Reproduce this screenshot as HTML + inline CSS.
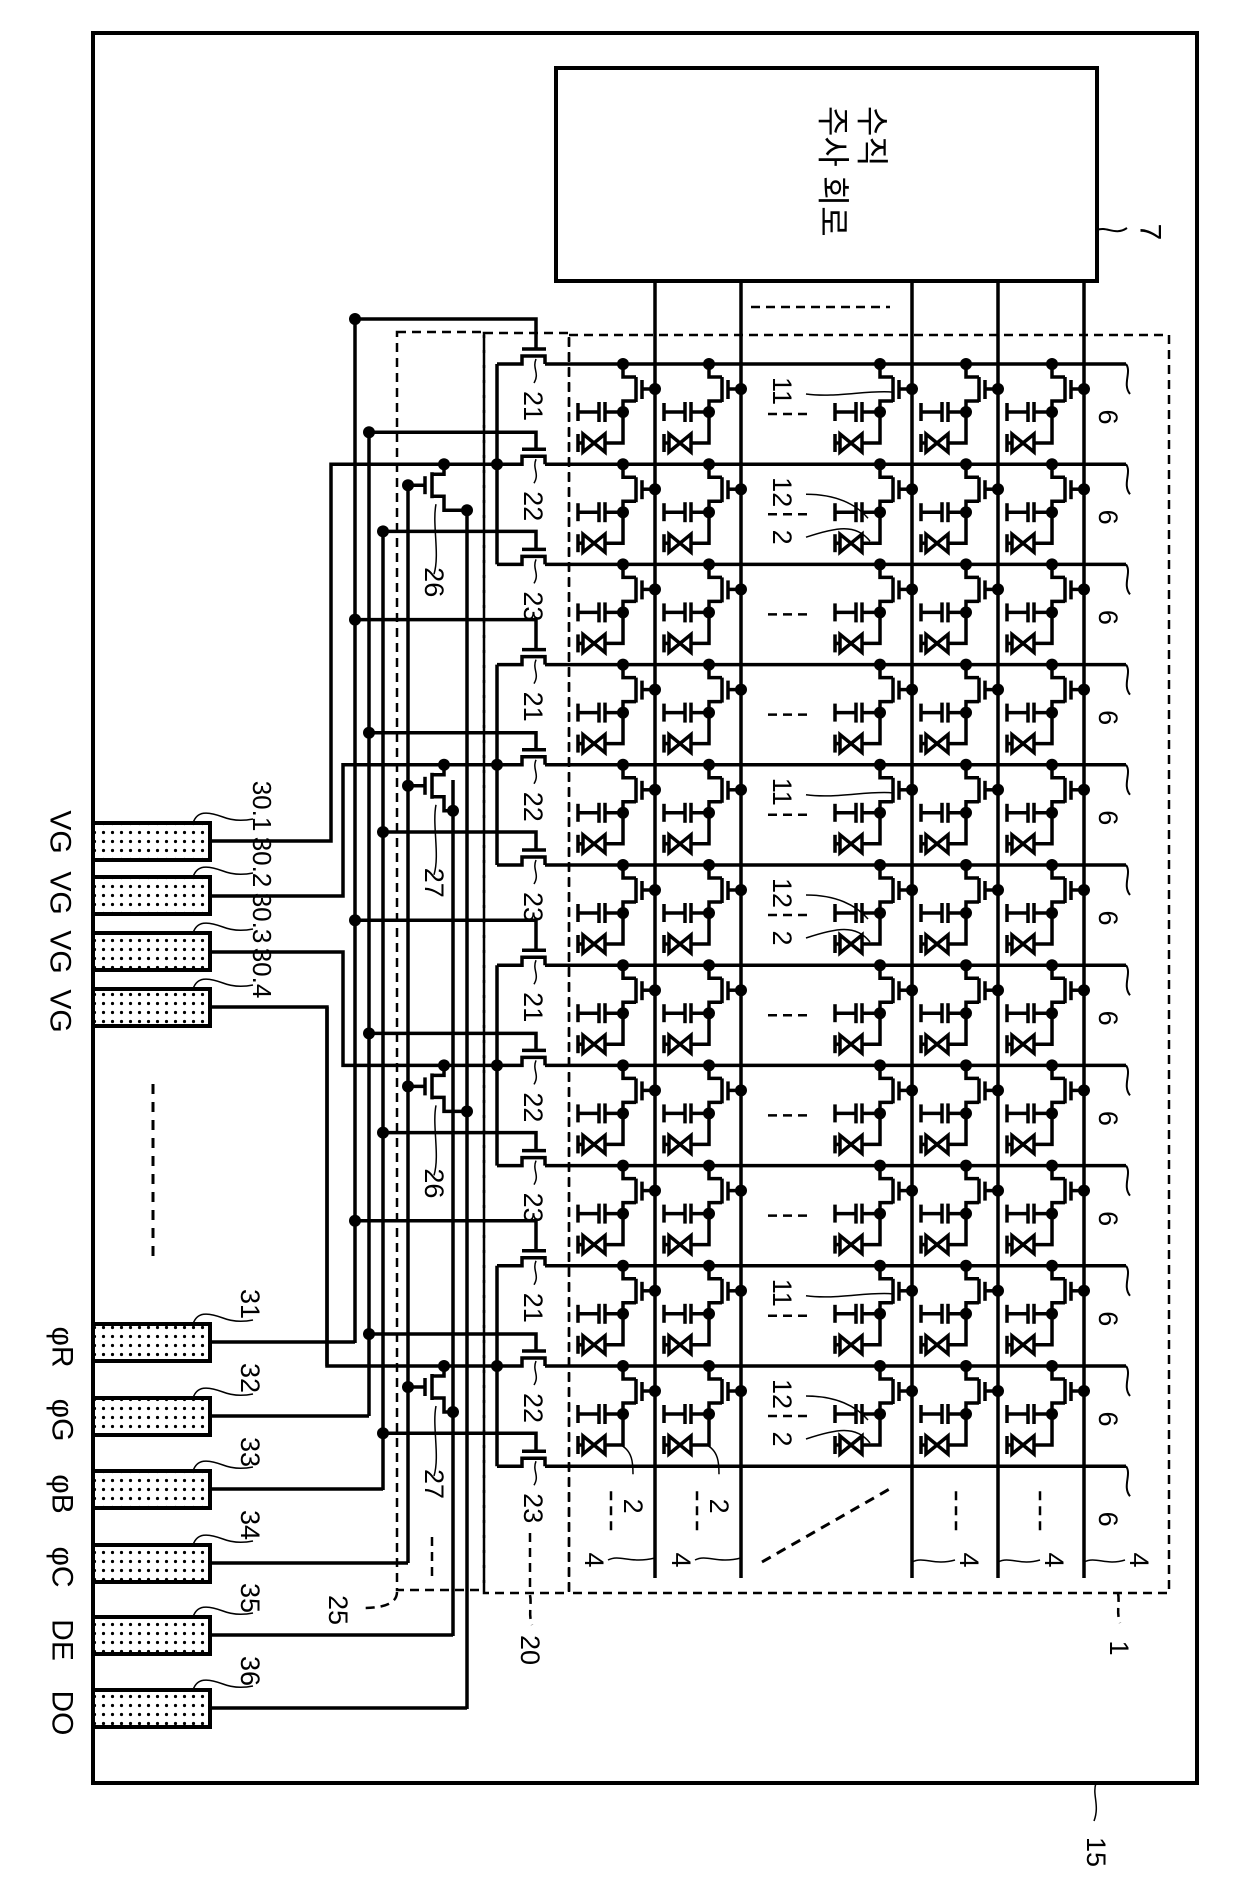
<!DOCTYPE html>
<html><head><meta charset="utf-8">
<style>
html,body{margin:0;padding:0;background:#fff;}
svg{display:block;}
text{font-family:"Liberation Sans","Noto Sans CJK KR",sans-serif;fill:#000;}
</style></head>
<body>
<svg id="s" width="1240" height="1901" viewBox="0 0 1240 1901" xmlns="http://www.w3.org/2000/svg">
<defs>
<pattern id="dots" width="9" height="9" patternUnits="userSpaceOnUse">
<rect width="9" height="9" fill="#fff"/><circle cx="4.5" cy="4.5" r="1.6" fill="#000"/>
</pattern>
</defs>
<g id="g" stroke="#000" stroke-width="3.5" fill="none"></g>
<g id="t"></g>
</svg>
<script>
var G=document.getElementById('g'),T=document.getElementById('t'),out='',txt='';
function L(x1,y1,x2,y2,extra){out+='<line x1="'+x1+'" y1="'+y1+'" x2="'+x2+'" y2="'+y2+'" '+(extra||'')+'/>';}
function P(d,extra){out+='<path d="'+d+'" '+(extra||'')+'/>';}
function D(x,y){out+='<circle cx="'+x+'" cy="'+y+'" r="6" fill="#000" stroke="none"/>';}
function R(x,y,w,h,extra){out+='<rect x="'+x+'" y="'+y+'" width="'+w+'" height="'+h+'" '+(extra||'')+'/>';}
function TX(x,y,s,fs,anc){txt+='<text transform="translate('+x+','+y+') rotate(90)" text-anchor="'+(anc||'middle')+'" dominant-baseline="central" font-size="'+(fs||27)+'">'+s+'</text>';}
var dash='stroke-dasharray="9,6" stroke-width="2.5"';
R(93,33,1104,1750,'stroke-width="4"');
R(556,68,541,213,'stroke-width="4"');
TX(872,106,'수직',33,'start');TX(833,106,'주사 회로',33,'start');
P('M1097,230 c10,-4 18,6 30,-2','stroke-width="2"');TX(1150,232,'7',30);
L(751,307,890,307,dash);
R(569,335,600,1258,dash);R(484,333,85,1260,dash);R(397,332,87,1258,dash);
var C=[655,741,912,998,1084];
C.forEach(function(c){L(c,281,c,1578);});
var Ry=[];for(var k=0;k<12;k++)Ry.push(364+100.2*k);
Ry.forEach(function(r,k){L(545,r,1126,r);
 P('M1126,'+r+' c6,8 -4,20 4,30','stroke-width="2"');TX(1108,r+53,'6',27);});
function cell(c,r){
 D(c-32,r);
 P('M'+(c-32)+','+r+' V'+(r+13)+' H'+(c-19));
 L(c-19,r+13,c-19,r+38);
 L(c-13,r+16,c-13,r+35);
 L(c-13,r+25,c,r+25);D(c,r+25);
 P('M'+(c-19)+','+(r+37)+' H'+(c-32)+' V'+(r+79)+' H'+(c-50));
 D(c-32,r+48);
 L(c-32,r+48,c-50,r+48);
 L(c-50,r+38,c-50,r+58);L(c-56,r+38,c-56,r+58);
 L(c-56,r+48,c-77,r+48);L(c-77,r+39,c-77,r+57);
 P('M'+(c-72)+','+(r+70)+' L'+(c-50)+','+(r+88)+' L'+(c-50)+','+(r+70)+' L'+(c-72)+','+(r+88)+' Z');
 L(c-72,r+79,c-77,r+79);L(c-77,r+70,c-77,r+88);
}
for(var k=0;k<11;k++)C.forEach(function(c){cell(c,Ry[k]);});
var pat=['11','12','-','-','11','12','-','-','-','11','12'];
for(var k=0;k<11;k++){var r=Ry[k];
 if(pat[k]=='11'){TX(782,r+27,'11',27);L(768,r+50,812,r+50,dash);P('M806,'+(r+30)+' c30,4 60,-4 86,-2','stroke-width="1.5"');}
 else if(pat[k]=='12'){TX(782,r+28,'12',27);L(768,r+50,812,r+50,dash);TX(782,r+73,'2',27);
  P('M806,'+(r+30)+' c30,0 50,10 62,24','stroke-width="1.5"');P('M806,'+(r+73)+' c30,-10 50,-14 64,4','stroke-width="1.5"');}
 else {L(768,r+50,812,r+50,dash);}
}
var rb=Ry[11];
[[611,629],[697,715]].forEach(function(a){L(a[0],rb+25,a[0],rb+65,dash);TX(a[1]+4,rb+40,'2',27);P('M'+(a[1]-10)+','+(rb-22)+' c14,6 14,20 14,30','stroke-width="1.5"');});
[956,1040].forEach(function(x){L(x,rb+25,x,rb+65,dash);});
L(762,1562,893,1487,'stroke-dasharray="10,7" stroke-width="3"');
[[594,655],[681,741]].forEach(function(a){TX(a[0],1560,'4',27);P('M'+(a[0]+14)+',1560 c12,-6 22,4 '+(a[1]-a[0]-14)+',-2','stroke-width="1.5"');});
[[969,912],[1054,998],[1139,1084]].forEach(function(a){TX(a[0],1560,'4',27);P('M'+a[1]+',1562 c12,-6 22,4 '+(a[0]-a[1]-14)+',-2','stroke-width="1.5"');});
P('M1118,1593 c2,10 -2,18 2,30',dash);TX(1119,1648,'1',27);
P('M1096,1783 c-4,12 4,22 -2,38','stroke-width="1.5"');TX(1096,1852,'15',27);
var gbx=[355,369,383],goff=[-45,-32,-33];
var midBus=[331,343,343,327],vgY=[841,896,952,1007];
for(var g=0;g<4;g++){
 for(var j=0;j<3;j++){var k=3*g+j,r=Ry[k];
  P('M497,'+r+' H522 V'+(r-8)+' H545 V'+r);
  L(522,r-15,546,r-15);
  var gy=r+goff[j];
  P('M'+gbx[j]+','+gy+' H536 V'+(r-15));
  if(k>0||j>0)D(gbx[j],gy);
  P('M536,'+(r-5)+' c-4,10 4,14 -2,24','stroke-width="1.5"');
  TX(533,r+42,['21','22','23'][j],27);
 }
 L(497,Ry[3*g],497,Ry[3*g+2]);
 var rm=Ry[3*g+1];D(497,rm);
 P('M497,'+rm+' H'+midBus[g]+' V'+vgY[g]+' H210');
 var ob=(g%2==0)?467:453;
 D(444,rm);
 P('M444,'+rm+' V'+(rm+10)+' H432');
 L(432,rm+8,432,rm+34);L(425,rm+12,425,rm+30);
 L(425,rm+21,408,rm+21);D(408,rm+21);
 P('M432,'+(rm+32)+' H444 V'+(rm+46)+' H'+ob);D(ob,rm+46);
 P('M436,'+(rm+40)+' c-4,20 4,50 -2,70','stroke-width="1.5"');
 TX(434,rm+118,(g%2==0)?'26':'27',27);
}
D(355,319);
L(355,319,355,1343);L(369,434,369,1416);L(383,533,383,1490);
L(408,485,408,1563);L(453,780,453,1636);L(467,510,467,1709);
L(327,1007,327,1366);
var pads=[[823,'30.1'],[877,'30.2'],[933,'30.3'],[989,'30.4'],[1324,'31'],[1398,'32'],[1471,'33'],[1545,'34'],[1617,'35'],[1690,'36']];
var bus=[331,343,343,327,355,369,383,408,453,467];
pads.forEach(function(p,i){
 R(93,p[0],117,37,'fill="url(#dots)" stroke-width="4"');
 var cy=p[0]+18;
 if(i>=4)L(210,cy,bus[i],cy);
 P('M193,'+p[0]+' c4,-12 14,-12 30,-6 c10,4 20,4 30,2','stroke-width="1.5"');
});
TX(262,806,'30.1',26);TX(262,862,'30.2',26);TX(262,918,'30.3',26);TX(262,973,'30.4',26);
TX(250,1304,'31',27);TX(250,1378,'32',27);TX(250,1452,'33',27);TX(250,1525,'34',27);TX(250,1598,'35',27);TX(250,1671,'36',27);
['VG','VG','VG','VG'].forEach(function(s,i){TX(60,[832,893,952,1011][i],s,30);});
['φR','φG','φB','φC','DE','DO'].forEach(function(s,i){TX(62,[1347,1420,1494,1567,1640,1713][i],s,30);});
L(153,1084,153,1260,'stroke-dasharray="10,8" stroke-width="3"');
L(432,1537,432,1580,dash);L(530,1533,530,1590,dash);
P('M397,1592 c0,10 -10,16 -34,16',dash);TX(338,1610,'25',27);
P('M530,1595 c2,10 -2,18 2,30',dash);TX(530,1650,'20',27);
G.innerHTML=out;T.innerHTML=txt;
</script>
</body></html>
